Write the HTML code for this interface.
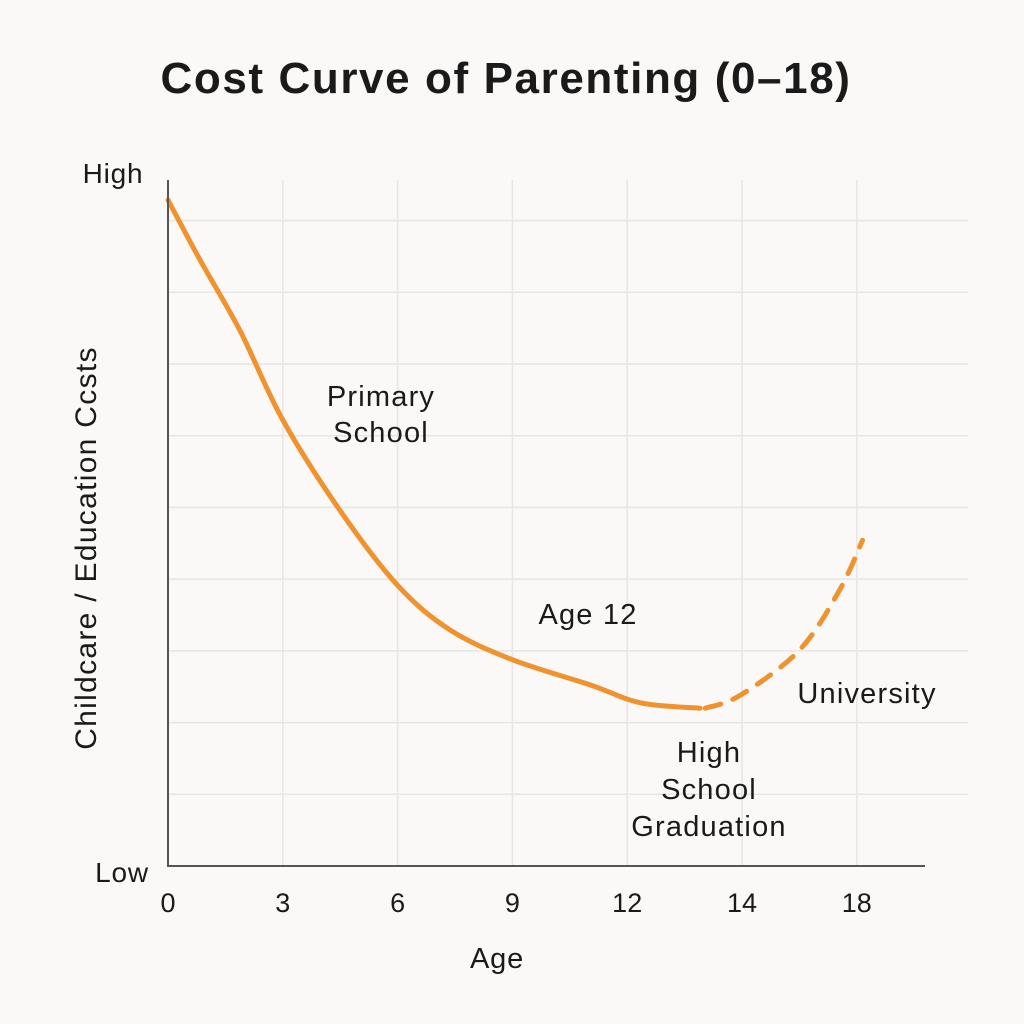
<!DOCTYPE html>
<html><head><meta charset="utf-8"><style>
body{margin:0;background:#faf9f7;}
svg{display:block;font-family:"Liberation Sans","DejaVu Sans",sans-serif;}
</style></head><body>
<svg id="chart" width="1024" height="1024" viewBox="0 0 1024 1024">
<rect width="1024" height="1024" fill="#faf9f7"/>
<text x="506" y="93" text-anchor="middle" font-size="44" font-weight="bold" letter-spacing="1.6" fill="#1a1a1a">Cost Curve of Parenting (0–18)</text>
<g id="grid"></g>
<g id="curves"></g>
<line x1="168" y1="180" x2="168" y2="867" stroke="#555" stroke-width="2"/>
<line x1="167" y1="866" x2="925" y2="866" stroke="#555" stroke-width="2"/>
<g id="xticks" font-size="27" fill="#1a1a1a" text-anchor="middle"></g>
<text x="113" y="183" text-anchor="middle" font-size="28" letter-spacing="0.8" fill="#1a1a1a">High</text>
<text x="122" y="882" text-anchor="middle" font-size="28" letter-spacing="0.8" fill="#1a1a1a">Low</text>
<text x="497" y="968" text-anchor="middle" font-size="29" letter-spacing="0.8" fill="#1a1a1a">Age</text>
<text transform="translate(96,548) rotate(-90)" text-anchor="middle" font-size="30" letter-spacing="1.3" fill="#1a1a1a">Childcare / Education Ccsts</text>
<g font-size="29" letter-spacing="1.2" fill="#1a1a1a" text-anchor="middle">
<text x="381" y="406"><tspan x="381">Primary</tspan><tspan x="381" dy="36">School</tspan></text>
<text x="588" y="624">Age 12</text>
<text x="867" y="703">University</text>
<text x="709" y="762"><tspan x="709">High</tspan><tspan x="709" dy="37">School</tspan><tspan x="709" dy="37">Graduation</tspan></text>
</g>
</svg>
<script>
const tickAges=[0,3,6,9,12,14,18];
const solidAges=[0,0.84,1.88,3,4.49,6,7.36,9,11.04,12.23,13.27];
const solidCost=[97.5,88.7,78.4,65.3,52.1,41.1,34.6,30.2,26.5,23.9,23.1];
const dashAges=[13.36,13.97,16.0,17.4,18.2];
const dashCost=[23.1,25,31.6,40.4,47.7];
const gridLevels=[10.5,21,31.5,42,52.5,63,73.5,84,94.5];

const X0=168,DX=114.8,Y0=866,YH=183;
function xs(a){
  for(let i=0;i<tickAges.length-1;i++){
    if(a<=tickAges[i+1]||i===tickAges.length-2){
      return X0+(i+(a-tickAges[i])/(tickAges[i+1]-tickAges[i]))*DX;
    }
  }
}
function ys(v){return Y0-v*(Y0-YH)/100;}
const NS="http://www.w3.org/2000/svg";
const grid=document.getElementById('grid');
tickAges.forEach((a,i)=>{
  if(i===0)return;
  const l=document.createElementNS(NS,'line');
  l.setAttribute('x1',xs(a));l.setAttribute('x2',xs(a));
  l.setAttribute('y1',180);l.setAttribute('y2',866);
  l.setAttribute('stroke','#e6e6e6');l.setAttribute('stroke-width','1.5');
  
  
  grid.appendChild(l);
});
gridLevels.forEach(v=>{
  const l=document.createElementNS(NS,'line');
  l.setAttribute('x1',168);l.setAttribute('x2',968);
  l.setAttribute('y1',ys(v));l.setAttribute('y2',ys(v));
  l.setAttribute('stroke','#e6e6e6');l.setAttribute('stroke-width','1.5');
  
  
  grid.appendChild(l);
});
const xt=document.getElementById('xticks');
tickAges.forEach(a=>{
  const t=document.createElementNS(NS,'text');
  t.setAttribute('x',xs(a));t.setAttribute('y',912);
  t.textContent=a;
  
  
  xt.appendChild(t);
});
function smooth(ax,ay){
  const p=ax.map((a,i)=>[xs(a),ys(ay[i])]);
  let d='M'+p[0][0]+','+p[0][1];
  for(let i=0;i<p.length-1;i++){
    const p0=p[i-1]||p[i],p1=p[i],p2=p[i+1],p3=p[i+2]||p2;
    const c1=[p1[0]+(p2[0]-p0[0])/6,p1[1]+(p2[1]-p0[1])/6];
    const c2=[p2[0]-(p3[0]-p1[0])/6,p2[1]-(p3[1]-p1[1])/6];
    d+=' C'+c1+' '+c2+' '+p2;
  }
  return d;
}
const cg=document.getElementById('curves');
const s=document.createElementNS(NS,'path');
s.setAttribute('d',smooth(solidAges,solidCost));
s.setAttribute('fill','none');s.setAttribute('stroke','#f0922e');
s.setAttribute('stroke-width','5');s.setAttribute('stroke-linecap','round');


cg.appendChild(s);
const dsh=document.createElementNS(NS,'path');
dsh.setAttribute('d',smooth(dashAges,dashCost));
dsh.setAttribute('fill','none');dsh.setAttribute('stroke','#f0922e');
dsh.setAttribute('stroke-width','5');dsh.setAttribute('stroke-dasharray','16 13');
dsh.setAttribute('stroke-linecap','round');


cg.appendChild(dsh);
</script>
</body></html>
